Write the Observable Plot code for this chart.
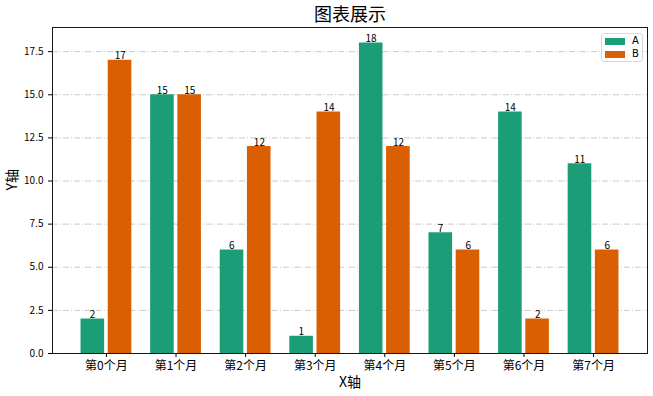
<!DOCTYPE html>
<html>
<head>
<meta charset="utf-8">
<script src="https://cdn.jsdelivr.net/npm/d3@7"></script>
<script src="https://cdn.jsdelivr.net/npm/@observablehq/plot@0.6"></script>
<style>
  body { margin: 0; background: #fff; }
  #wrap { position: relative; width: 653px; height: 396px; font-family: "Noto Sans CJK SC", "DejaVu Sans", sans-serif; }
  #legend { position: absolute; left: 601px; top: 33px; width: 40px; height: 27px; border: 1px solid #d8d8d8; border-radius: 3px; background: rgba(255,255,255,0.85); font-family: "DejaVu Sans", sans-serif; font-size: 10px; line-height: 10px; }
  .row { position: absolute; left: 3px; height: 10px; line-height: 10px; display: flex; align-items: center; }
  .sw { width: 20px; height: 7px; margin-right: 7px; }
</style>
</head>
<body>
<div id="wrap"></div>
<script>
const categories = ["第0个月", "第1个月", "第2个月", "第3个月", "第4个月", "第5个月", "第6个月", "第7个月"];
const seriesA = [2, 15, 6, 1, 18, 7, 14, 11];
const seriesB = [17, 15, 12, 14, 12, 6, 2, 6];
const seriesNames = ["A", "B"];
const colors = ["#1b9e77", "#d95f02"];
const yTicks = [0, 2.5, 5, 7.5, 10, 12.5, 15, 17.5];
const title = "图表展示";
const xLabel = "X轴";
const yLabel = "Y轴";

const dataA = categories.map((c, i) => ({cat: c, v: seriesA[i]}));
const dataB = categories.map((c, i) => ({cat: c, v: seriesB[i]}));

const bandInset = 27.2;
const off = 13.8;

const chart = Plot.plot({
  width: 653,
  height: 396,
  marginTop: 27,
  marginBottom: 43,
  marginLeft: 52,
  marginRight: 6,
  style: {fontFamily: "'Noto Sans CJK SC', 'DejaVu Sans', sans-serif", color: "#000", background: "#fff"},
  x: {type: "band", domain: categories, paddingInner: 0.27, paddingOuter: 0.41, round: false, label: null},
  y: {domain: [0, 18.9], label: null},
  marks: [
    Plot.gridY(yTicks, {stroke: "#c4c4c4", strokeOpacity: 0.9, strokeDasharray: "6,2,1,2"}),
    Plot.barY(dataA, {x: "cat", y: "v", fill: colors[0], insetRight: bandInset}),
    Plot.barY(dataB, {x: "cat", y: "v", fill: colors[1], insetLeft: bandInset}),
    Plot.text(dataA, {x: "cat", y: "v", text: d => String(d.v), dx: -off, dy: -1, lineAnchor: "bottom", fontSize: 10, fill: "#000"}),
    Plot.text(dataB, {x: "cat", y: "v", text: d => String(d.v), dx: off, dy: -1, lineAnchor: "bottom", fontSize: 10, fill: "#000"}),
    Plot.axisY({ticks: yTicks, tickFormat: d3.format(".1f"), tickSize: 4, fontSize: 10, label: null}),
    Plot.axisX({tickSize: 4, fontSize: 12, tickPadding: 4, label: null}),
    Plot.frame({stroke: "#000", strokeOpacity: 0.9}),
    Plot.text([title], {frameAnchor: "top", lineAnchor: "middle", dy: -12, fontSize: 18, fill: "#000"}),
    Plot.text([xLabel], {frameAnchor: "bottom", lineAnchor: "middle", dy: 29, fontSize: 14, fill: "#000"}),
    Plot.text([yLabel], {frameAnchor: "left", dx: -40, rotate: -90, fontSize: 14, fill: "#000"})
  ]
});

const wrap = document.getElementById("wrap");
wrap.appendChild(chart);
const legend = document.createElement("div");
legend.id = "legend";
seriesNames.forEach((s, i) => {
  const row = document.createElement("div");
  row.className = "row";
  row.style.top = (i === 0 ? 2 : 15) + "px";
  const sw = document.createElement("div");
  sw.className = "sw";
  sw.style.background = colors[i];
  const t = document.createElement("span");
  t.textContent = s;
  row.appendChild(sw);
  row.appendChild(t);
  legend.appendChild(row);
});
wrap.appendChild(legend);
</script>
</body>
</html>
